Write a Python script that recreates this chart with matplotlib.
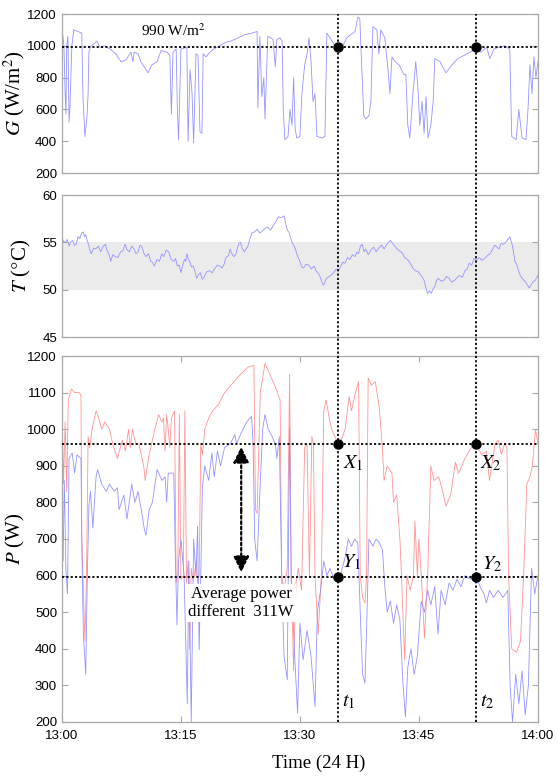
import matplotlib
matplotlib.use('Agg')
import matplotlib.pyplot as plt
from matplotlib.lines import Line2D
from matplotlib.transforms import blended_transform_factory

plt.rcParams['font.family'] = 'Liberation Sans'
plt.rcParams['mathtext.fontset'] = 'stix'

# minutes after 13:00
t_ticks = [0, 15, 30, 45, 60]
t_labels = ['13:00', '13:15', '13:30', '13:45', '14:00']

# irradiance G (W/m2)
g_min = [0.0, 0.1, 0.25, 0.4, 0.5, 0.6, 0.75, 0.9, 1.0, 1.25, 1.5, 2.0, 2.5, 2.65, 2.9, 3.15, 3.3, 3.4,
         3.65, 4.0, 4.4, 4.8, 5.3, 6.05, 6.8, 7.45, 8.05, 8.7, 8.95, 9.1, 9.6, 9.95, 10.85, 11.35, 12.0,
         12.5, 13.25, 13.6, 13.8, 14.0, 14.4, 14.55, 14.7, 15.0, 15.75, 15.9, 16.15, 16.4, 16.6, 16.9,
         17.15, 17.4, 17.65, 17.8, 18.15, 18.65, 19.15, 19.9, 20.55, 21.3, 22.2, 23.05, 23.95, 24.6,
         24.7, 24.95, 25.2, 25.45, 25.6, 25.95, 26.6, 26.9, 27.1, 27.5, 27.75, 27.9, 28.1, 28.5, 28.75,
         29.0, 29.2, 29.4, 29.6, 30.0, 30.25, 30.6, 30.9, 31.15, 31.4, 31.65, 31.9, 32.15, 32.8, 33.15,
         33.4, 33.8, 34.15, 34.55, 35.05, 35.4, 35.9, 36.4, 36.95, 37.3, 37.55, 37.8, 38.05, 38.3, 38.7,
         38.95, 39.2, 39.7, 39.95, 40.2, 40.7, 41.1, 41.35, 41.6, 42.0, 42.5, 43.1, 43.35, 43.6, 43.85,
         44.25, 44.6, 44.9, 45.1, 45.4, 45.65, 45.9, 46.15, 46.5, 46.8, 47.0, 47.65, 48.4, 49.15, 49.9,
         50.7, 51.45, 52.2, 52.8, 53.55, 53.95, 54.45, 55.0, 55.85, 56.45, 56.7, 57.25, 57.6, 58.0, 58.5,
         58.75, 59.0, 59.25, 59.5, 59.75, 60.0]
g_val = [1080, 1070, 1000, 700, 570, 1000, 1060, 520, 600, 1000, 1100, 1090, 1080, 680, 430, 550, 700, 960,
         1000, 1010, 1030, 990, 1000, 980, 950, 900, 910, 960, 900, 960, 950, 900, 830, 880, 900,
         970, 960, 940, 570, 960, 980, 600, 410, 980, 990, 400, 850, 700, 390, 950,
         940, 460, 450, 950, 930, 960, 980, 1000, 1020, 1030, 1050, 1070, 1080, 1090,
         610, 1060, 680, 800, 540, 1060, 1040, 870, 1040, 1050, 1030, 600, 410, 430, 600,
         500, 800, 480, 420, 430, 700, 880, 950, 1050, 900, 650, 700, 430, 420, 430,
         1080, 1050, 1020, 990, 980, 1000, 1050, 1070, 1090, 1180, 1170, 850, 560, 540, 560,
         650, 1120, 1100, 950, 1100, 1050, 850, 700, 930, 900, 880, 820, 820, 500, 420,
         700, 900, 720, 500, 650, 450, 680, 420, 500, 650, 920, 900, 830, 880, 920,
         940, 960, 985, 960, 990, 920, 980, 990, 1000, 980, 430, 410, 600, 420, 410,
         600, 880, 700, 930, 800, 900]

# module temperature T (degC)
temp_min = [0.0, 0.22, 0.45, 0.68, 0.9, 1.12, 1.35, 1.58, 1.8, 2.02, 2.25, 2.48, 2.7, 2.85, 3.0, 3.18,
            3.35, 3.52, 3.7, 3.98, 4.25, 4.58, 4.9, 5.2, 5.5, 5.65, 5.8, 5.98, 6.15, 6.42, 6.7, 7.05,
            7.4, 7.68, 7.95, 8.22, 8.5, 8.8, 9.1, 9.35, 9.6, 9.85, 10.1, 10.35, 10.6, 10.9, 11.2, 11.42,
            11.65, 11.98, 12.3, 12.58, 12.85, 13.15, 13.45, 13.78, 14.1, 14.32, 14.55, 14.78, 15.0,
            15.22, 15.45, 15.6, 15.75, 15.92, 16.1, 16.32, 16.55, 16.78, 17.0, 17.22, 17.45, 17.68,
            17.9, 18.25, 18.6, 18.92, 19.25, 19.58, 19.9, 20.18, 20.45, 20.62, 20.8, 21.0, 21.2, 21.42,
            21.65, 21.9, 22.15, 22.32, 22.5, 22.75, 23.0, 23.2, 23.4, 23.68, 23.95, 24.28, 24.6, 24.95,
            25.3, 25.62, 25.95, 26.3, 26.65, 26.98, 27.3, 27.65, 28.0, 28.2, 28.42, 28.65, 29.0, 29.35,
            29.68, 30.0, 30.22, 30.45, 30.78, 31.1, 31.45, 31.8, 32.02, 32.25, 32.48, 32.7, 32.85, 33.0,
            33.18, 33.35, 33.7, 34.05, 34.32, 34.6, 34.88, 35.15, 35.42, 35.7, 36.0, 36.3, 36.62, 36.95,
            37.18, 37.4, 37.62, 37.85, 38.08, 38.3, 38.62, 38.95, 39.28, 39.6, 39.95, 40.3, 40.62,
            40.95, 41.18, 41.4, 41.68, 41.95, 42.25, 42.55, 42.88, 43.2, 43.55, 43.9, 44.22, 44.55,
            44.9, 45.25, 45.45, 45.65, 45.88, 46.1, 46.32, 46.55, 46.78, 47.0, 47.22, 47.45, 47.8,
            48.15, 48.48, 48.8, 49.15, 49.5, 49.82, 50.15, 50.48, 50.8, 51.08, 51.35, 51.65, 51.95,
            52.28, 52.6, 52.95, 53.3, 53.62, 53.95, 54.25, 54.55, 54.82, 55.1, 55.38, 55.65, 55.92,
            56.2, 56.45, 56.6, 56.75, 56.92, 57.1, 57.32, 57.55, 57.78, 58.0, 58.22, 58.45, 58.68,
            58.9, 59.12, 59.35, 59.68, 60.0]
temp_val = [55.5, 55.1, 55.0, 55.3, 54.6, 55.1, 55.2, 54.7, 54.8, 55.6, 55.4, 56.0, 56.1, 55.6, 55.8, 55.2,
            54.8, 54.2, 53.8, 54.4, 54.3, 54.6, 54.0, 54.6, 54.8, 54.2, 54.0, 53.6, 53.0, 53.7, 53.5, 53.4,
            54.0, 54.1, 54.8, 54.2, 54.0, 54.6, 54.3, 53.8, 54.0, 54.7, 54.5, 53.8, 53.5, 53.8, 53.0, 52.9,
            52.5, 53.2, 53.0, 53.8, 53.5, 54.2, 54.0, 53.2, 53.0, 53.3, 52.5, 52.6, 51.8,
            52.6, 53.2, 53.0, 53.8, 53.2, 53.0, 52.4, 52.5, 51.9, 51.2, 51.6, 51.8, 51.1,
            51.3, 51.9, 52.0, 51.8, 52.2, 52.6, 52.5, 52.3, 52.7, 53.3, 53.5, 53.6, 54.3, 53.8,
            53.5, 53.7, 54.5, 54.9, 55.0, 54.3, 54.0, 54.3, 54.5, 55.3, 56.0, 56.1, 56.4, 56.0,
            56.2, 56.5, 56.6, 56.3, 56.8, 57.2, 57.7, 57.6, 57.8, 57.0, 56.3, 56.0, 55.0, 54.5,
            53.6, 53.0, 52.4, 52.3, 52.7, 52.6, 52.2, 52.5, 52.0, 51.8, 51.5, 51.0, 50.6, 50.5,
            50.9, 51.2, 51.4, 51.6, 51.9, 52.2, 52.0, 52.5, 52.9, 52.8, 53.4, 53.2, 53.7, 53.5,
            54.0, 53.8, 54.6, 54.8, 54.0, 54.3, 53.7, 54.2, 54.5, 54.0, 54.4, 54.7, 54.3,
            54.8, 55.0, 55.2, 54.9, 54.6, 54.3, 54.1, 53.9, 53.4, 53.2, 52.8, 52.3, 52.0,
            51.9, 51.5, 51.3, 51.0, 50.2, 49.6, 49.9, 49.6, 50.1, 50.3, 51.0, 51.2, 50.9,
            51.0, 51.4, 51.2, 50.8, 51.0, 51.3, 51.5, 51.3, 52.0, 52.2, 52.8, 52.6, 53.3,
            53.1, 53.4, 53.1, 53.3, 53.6, 53.8, 54.2, 54.7, 54.5, 54.3, 54.9, 54.8, 55.0,
            55.3, 55.6, 55.2, 54.8, 54.0, 53.0, 52.7, 52.0, 51.5, 51.2, 51.0, 50.8, 50.5,
            50.2, 50.5, 50.8, 51.0, 51.5]

# output power P (W), red and blue systems
red_min = [0.0, 0.2, 0.4, 0.6, 0.8, 1.2, 1.6, 2.2, 2.4, 2.5, 2.7, 2.9, 3.1, 3.3, 3.5, 3.8, 4.3, 4.5, 5.0,
           5.4, 6.0, 6.4, 7.0, 7.6, 8.0, 8.4, 8.6, 8.9, 9.3, 9.7, 10.3, 10.5, 10.9, 11.3, 11.7, 12.2,
           12.6, 12.8, 13.0, 13.2, 13.4, 13.6, 13.8, 14.0, 14.2, 14.4, 14.6, 14.8, 15.0, 15.3, 15.5,
           15.7, 15.9, 16.1, 16.3, 16.5, 16.7, 16.9, 17.1, 17.3, 17.5, 17.7, 18.0, 18.5, 19.0, 19.8,
           20.5, 21.3, 22.5, 23.5, 24.2, 24.4, 24.6, 25.0, 25.6, 26.2, 27.0, 27.5, 27.7, 28.0, 28.4,
           28.7, 28.9, 29.2, 29.5, 29.8, 30.2, 30.6, 30.9, 31.2, 31.5, 31.7, 31.9, 32.3, 32.7, 33.0,
           33.3, 33.7, 34.0, 34.4, 34.8, 35.2, 35.7, 36.2, 36.5, 37.0, 37.4, 37.6, 37.9, 38.2, 38.4,
           38.6, 39.0, 39.5, 40.0, 40.4, 40.6, 41.0, 41.6, 41.8, 42.2, 42.6, 42.8, 43.2, 43.5, 43.9,
           44.3, 44.5, 44.8, 45.0, 45.3, 45.7, 46.1, 46.5, 46.9, 47.5, 48.0, 48.4, 49.0, 49.6, 50.0,
           50.8, 51.6, 52.2, 52.9, 53.5, 53.9, 54.6, 55.0, 55.4, 55.8, 56.1, 56.3, 56.7, 57.3, 57.8,
           58.2, 58.6, 59.0, 59.3, 59.7, 60.0]
red_val = [1070, 850, 1020, 830, 1080, 1110, 1100, 1100, 1090, 700, 560, 420, 600, 980, 950, 1000, 1050, 1040, 1000,
           1020, 1000, 960, 920, 970, 940, 1000, 950, 1000, 960, 960, 900, 860, 920, 960, 1000, 1040,
           1020, 1030, 940, 1040, 1000, 950, 1030, 1040, 1050, 580, 600, 1040, 590, 600, 1050,
           580, 640, 400, 620, 590, 600, 640, 580, 600, 960, 930, 1000, 1030, 1050, 1070,
           1100, 1120, 1150, 1170, 1175, 780, 770, 1100, 1180, 1150, 1110, 1080, 600, 560, 620,
           1150, 600, 340, 580, 620, 560, 950, 960, 600, 980, 960, 600, 440, 600, 1050,
           1080, 1030, 1000, 980, 960, 970, 1000, 1090, 1050, 1100, 1130, 600, 540, 525, 600,
           1140, 1120, 1130, 1060, 950, 860, 900, 880, 800, 820, 700, 600, 370, 600, 560,
           600, 750, 600, 700, 600, 430, 600, 900, 860, 870, 830, 790, 820, 910, 880,
           920, 950, 960, 930, 940, 860, 960, 970, 930, 960, 950, 600, 400, 390, 420,
           600, 850, 870, 900, 1000, 960]

blue_min = [0.0, 0.15, 0.3, 0.5, 0.7, 0.9, 1.3, 1.6, 1.9, 2.4, 2.5, 2.7, 3.0, 3.2, 3.4, 3.6, 3.9, 4.3, 4.5,
            5.0, 5.6, 6.0, 6.6, 7.0, 7.2, 7.8, 8.2, 8.8, 9.2, 9.6, 10.0, 10.4, 10.6, 11.0, 11.4, 12.0,
            12.6, 13.0, 13.2, 13.4, 14.1, 14.3, 14.5, 14.7, 15.0, 15.4, 15.8, 16.0, 16.3, 16.6, 16.9,
            17.1, 17.3, 17.5, 17.7, 18.0, 18.5, 18.9, 19.2, 19.6, 20.0, 20.5, 21.2, 21.8, 22.0, 22.6,
            23.3, 23.9, 24.1, 24.3, 24.6, 24.9, 25.3, 25.6, 26.0, 26.5, 26.9, 27.1, 27.4, 27.7, 28.0,
            28.4, 28.7, 28.9, 29.3, 29.7, 30.0, 30.4, 30.9, 31.4, 31.9, 32.2, 32.6, 33.0, 33.4, 33.8,
            34.3, 34.8, 35.2, 35.7, 36.1, 36.5, 36.9, 37.3, 37.6, 37.9, 38.2, 38.4, 38.7, 39.2, 39.6,
            40.0, 40.4, 40.7, 41.0, 41.4, 41.8, 42.2, 42.6, 43.0, 43.3, 43.6, 44.0, 44.4, 44.8, 45.3,
            45.7, 46.1, 46.5, 47.0, 47.4, 47.8, 48.3, 48.8, 49.3, 49.8, 50.3, 50.8, 51.5, 52.2, 52.7,
            53.2, 53.5, 53.9, 54.4, 55.0, 55.6, 56.2, 56.5, 56.8, 57.2, 57.6, 58.0, 58.4, 58.8, 59.2,
            59.6, 60.0]
blue_val = [850, 640, 860, 615, 550, 920, 935, 880, 930, 920, 700, 440, 330, 600, 790, 830, 730, 870, 890,
            850, 830, 850, 830, 840, 780, 820, 755, 850, 800, 830, 780, 725, 710, 780, 800, 890,
            860, 870, 800, 880, 880, 650, 465, 640, 700, 600, 250, 640, 200, 700, 600,
            735, 397, 600, 840, 900, 860, 935, 870, 940, 900, 950, 960, 985, 960, 990,
            1020, 1035, 960, 700, 640, 800, 1000, 1040, 1000, 980, 960, 920, 980, 600, 380,
            315, 1005, 600, 400, 224, 470, 370, 450, 380, 242, 500, 560, 640, 600, 620,
            590, 595, 610, 650, 700, 680, 700, 690, 500, 330, 306, 450, 700, 680, 700,
            690, 670, 570, 500, 530, 470, 520, 480, 300, 214, 350, 400, 330, 380, 530,
            500, 560, 520, 570, 440, 560, 520, 580, 560, 590, 570, 600, 590, 600, 570,
            550, 525, 560, 540, 560, 540, 560, 300, 200, 330, 250, 340, 220, 300, 620,
            550, 600]

# reference levels and marked instants
g_ref = 990
p_x = 960
p_y = 595
t1 = 34.8
t2 = 52.2

serif = 'Liberation Serif'
grey = '#a8a8a8'
blue = '#9494ff'
red = '#ff9494'
dot_ls = (0, (1.2, 1.2))

fig = plt.figure(figsize=(5.58, 7.78), dpi=100)
ax_g = fig.add_axes([0.111, 0.7776, 0.853, 0.2044])
ax_t = fig.add_axes([0.111, 0.5668, 0.853, 0.1825])
ax_p = fig.add_axes([0.111, 0.072, 0.853, 0.4704])

for ax in (ax_g, ax_t, ax_p):
    ax.set_xlim(0, 60)
    for s in ax.spines.values():
        s.set_color(grey)
        s.set_linewidth(0.9)
    ax.tick_params(direction='in', color=grey, length=4, labelsize=9.5, right=True)

ax_g.tick_params(bottom=False, labelbottom=False)
ax_t.tick_params(bottom=False, labelbottom=False)
ax_p.tick_params(top=True)
ax_p.tick_params(axis='x', pad=6)

# irradiance
ax_g.plot(g_min, g_val, color=blue, lw=0.6)
ax_g.axhline(g_ref, color='black', ls=dot_ls, lw=1.3, zorder=4)
ax_g.plot([t1, t2], [g_ref, g_ref], 'o', color='black', ms=6.5, zorder=5)
ax_g.text(14.0, 1093, '990 W/m$^2$', family=serif, fontsize=11, ha='center', va='center')
ax_g.set_ylim(200, 1200)
ax_g.set_yticks(range(200, 1201, 200))
ax_g.set_ylabel('$G$ (W/m$^2$)', family=serif, fontsize=15, labelpad=0)

# temperature
ax_t.axhspan(50, 55, color='#ebebeb', lw=0, zorder=0)
ax_t.plot(temp_min, temp_val, color=blue, lw=0.6)
ax_t.set_ylim(45, 60)
ax_t.set_yticks([45, 50, 55, 60])
ax_t.set_ylabel('$T$ ($\\degree$C)', family=serif, fontsize=15, labelpad=7)

# power
ax_p.plot(red_min, red_val, color=red, lw=0.6)
ax_p.plot(blue_min, blue_val, color=blue, lw=0.6)
ax_p.axhline(p_x, color='black', ls=dot_ls, lw=1.3, zorder=4)
ax_p.axhline(p_y, color='black', ls=dot_ls, lw=1.3, zorder=4)
ax_p.plot([t1, t2, t1, t2], [p_x, p_x, p_y, p_y], 'o', color='black', ms=6.5, zorder=5)
ax_p.set_ylim(200, 1200)
ax_p.set_yticks(range(200, 1201, 100))
ax_p.set_xticks(t_ticks)
ax_p.set_xticklabels(t_labels)
ax_p.set_ylabel('$P$ (W)', family=serif, fontsize=15, labelpad=0)
ax_p.set_xlabel('Time (24 H)', family=serif, fontsize=13.5)
ax_p.xaxis.set_label_coords(0.54, -0.088)

lab = dict(fontsize=14.5, ha='left', va='center', zorder=6)
ax_p.text(t1 + 0.6, 908, '$X_1$', **lab)
ax_p.text(t2 + 0.5, 908, '$X_2$', **lab)
ax_p.text(t1 + 0.5, 637, '$Y_1$', **lab)
ax_p.text(t2 + 0.7, 632, '$Y_2$', **lab)
ax_p.text(t1 + 0.5, 257, '$t_1$', **lab)
ax_p.text(t2 + 0.5, 257, '$t_2$', **lab)

# double arrow between the two average levels
t_arrow = 22.6
mid = (p_x + p_y) / 2
for end in (p_x - 8, p_y + 14):
    ax_p.annotate('', xy=(t_arrow, end), xytext=(t_arrow, mid),
                  arrowprops=dict(arrowstyle='-|>', color='black', lw=1.6,
                                  linestyle=(0, (1.2, 1.2)), mutation_scale=24,
                                  shrinkA=0, shrinkB=0), zorder=5)
ax_p.text(t_arrow, 525, 'Average power\ndifferent  311W', family=serif, fontsize=12,
          ha='center', va='center', linespacing=1.15, zorder=3,
          bbox=dict(boxstyle='square,pad=0.15', fc='white', ec='none'))

# vertical markers t1, t2 running through all three panels
top = 0.7776 + 0.2044
trans = blended_transform_factory(ax_p.transData, fig.transFigure)
for tt in (t1, t2):
    fig.add_artist(Line2D([tt, tt], [0.072, top], transform=trans, color='black',
                          ls=dot_ls, lw=1.3, zorder=4))

fig.savefig('out.png', dpi=100)
